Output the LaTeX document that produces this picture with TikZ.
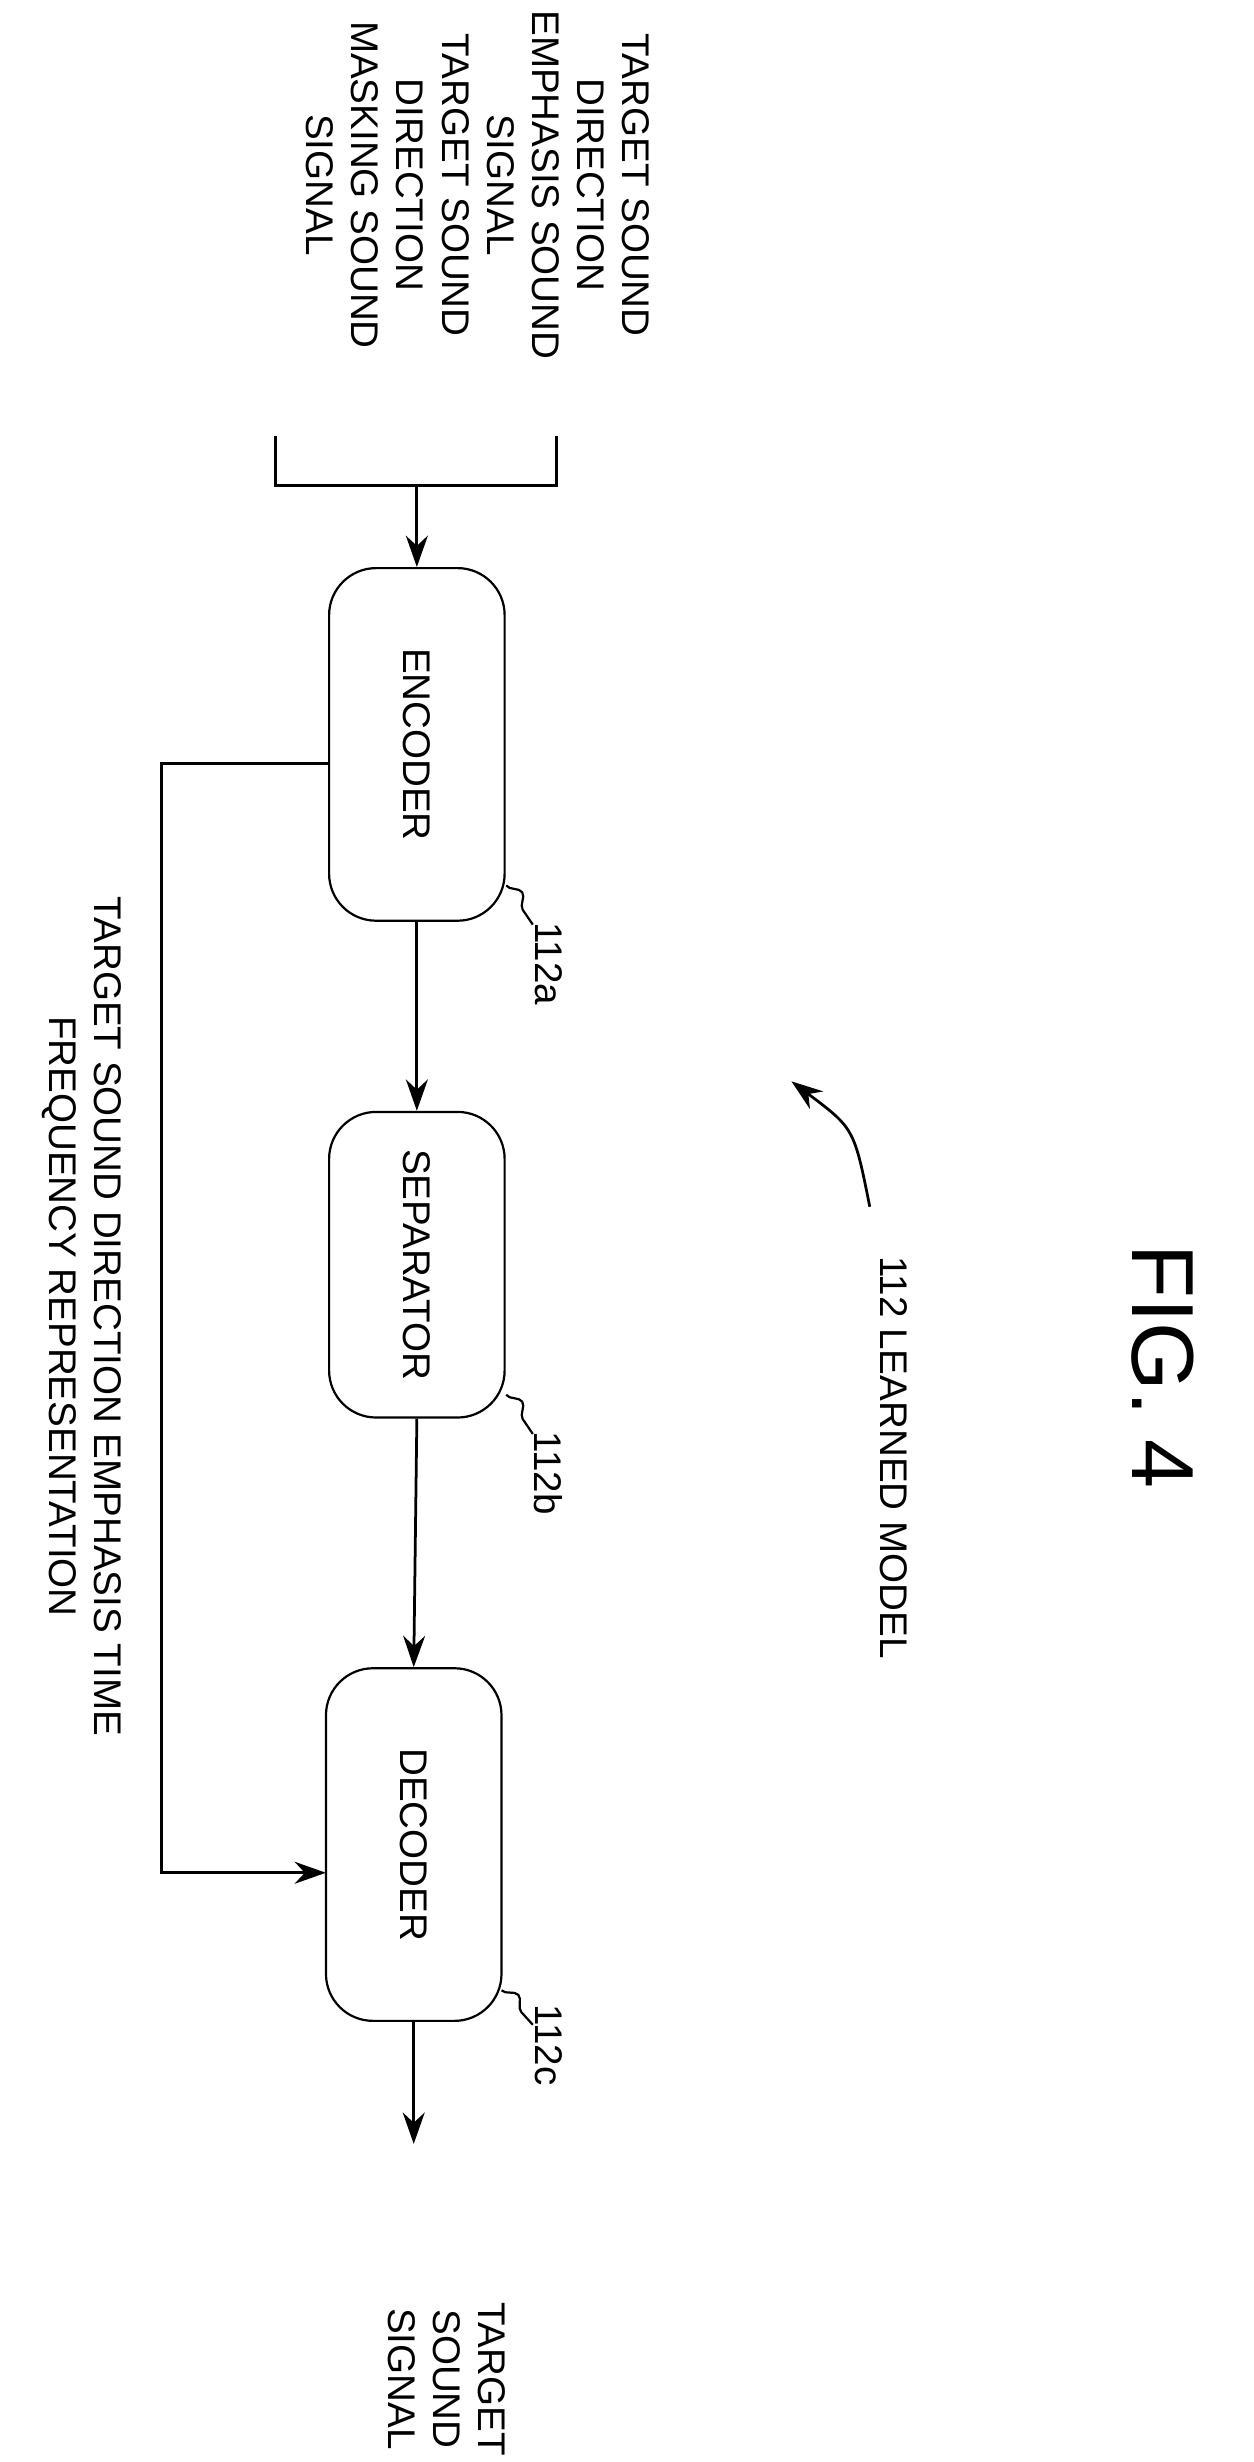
\documentclass[tikz,border=0pt]{standalone}
\usepackage{fontspec}
\setmainfont{Liberation Sans}
\usetikzlibrary{arrows.meta,decorations.pathmorphing}
\begin{document}
\begin{tikzpicture}[x=0.1mm,y=-0.1mm,
  blk/.style={draw,rounded corners=3mm,minimum width=22.5mm,minimum height=11.2mm,rotate=-90,font=\fontsize{7}{8}\selectfont},
  lbl/.style={rotate=-90,align=center,font=\fontsize{7}{8.2}\selectfont},
  arr/.style={-{Stealth[length=2mm,width=1.4mm]},line width=0.5pt},
  lead/.style={decorate,decoration={snake,amplitude=0.6mm,segment length=3mm}}]
\useasboundingbox (0,0) rectangle (800,1571);
\node[blk] (enc) at (266,475) {ENCODER};
\node[blk,minimum width=19.5mm] (sep) at (266,807) {SEPARATOR};
\node[blk] (dec) at (264,1177) {DECODER};
\coordinate (bl) at (176,278);
\coordinate (br) at (355,278);
\coordinate (bm) at (266,310);
\draw[line width=0.5pt] (bl) |- (br |- bm) -- (br);
\draw[arr] (bm) -- (enc.west);
\draw[arr] (enc.east) -- (sep.west);
\draw[arr] (sep.east) -- (dec.west);
\coordinate (out) at (264,1368);
\draw[arr] (dec.east) -- (out);
\coordinate (sk1) at (103,487);
\coordinate (sk2) at (103,1195);
\draw[arr] (210,487) -- (sk1) -- (sk2) -- (208,1195);
\node[lbl] (in) at (305,118) {TARGET SOUND\\DIRECTION\\EMPHASIS SOUND\\SIGNAL\\TARGET SOUND\\DIRECTION\\MASKING SOUND\\SIGNAL};
\node[lbl] (tf) at (52,840) {TARGET SOUND DIRECTION EMPHASIS TIME\\FREQUENCY REPRESENTATION};
\node[lbl] (os) at (285,1518) {TARGET\\SOUND\\SIGNAL};
\node[rotate=-90,font=\fontsize{16}{19}\selectfont] (fig) at (742,872) {FIG. 4};
\node[lbl] (lm) at (570,930) {112 LEARNED MODEL};
\draw[arr] (555,770) .. controls (545,720) .. (505,690);
\node[lbl] (la) at (350,615) {112a};
\node[lbl] (lb) at (350,940) {112b};
\node[lbl] (lc) at (350,1305) {112c};
\draw[lead] (323,565) -- (340,590);
\draw[lead] (323,890) -- (340,915);
\draw[lead] (320,1270) -- (340,1292);
\end{tikzpicture}
\end{document}
